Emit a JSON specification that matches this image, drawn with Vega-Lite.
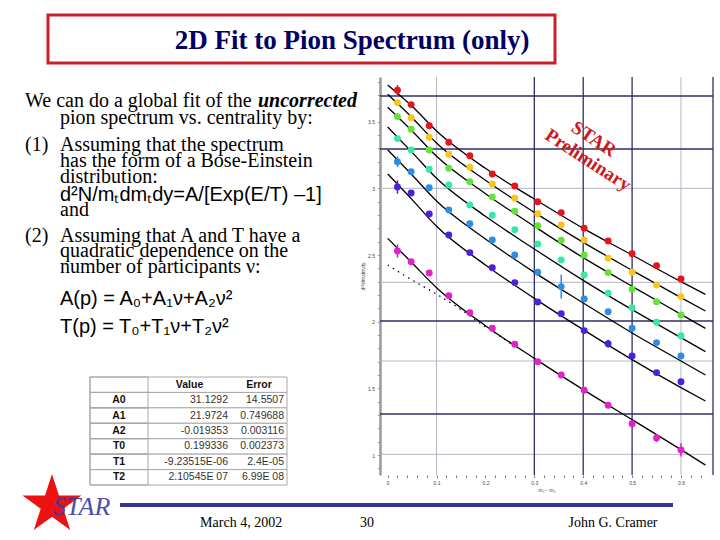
{
"$schema": "https://vega.github.io/schema/vega-lite/v6.json",
"width": 720, "height": 540, "autosize": {"type": "none"}, "padding": 0,
"background": "white",
"config": {"view": {"stroke": null}},
"datasets": {
"title": [{"title": "2D Fit to Pion Spectrum (only)"}],
"body": [
{"ln": 1, "ind": 0, "txt": "We can do a global fit of the"},
{"ln": 2, "ind": 1, "txt": "pion spectrum vs. centrality by:"},
{"ln": 3, "ind": 0, "txt": "(1)"},
{"ln": 3, "ind": 1, "txt": "Assuming that the spectrum"},
{"ln": 4, "ind": 1, "txt": "has the form of a Bose-Einstein"},
{"ln": 5, "ind": 1, "txt": "distribution:"},
{"ln": 7, "ind": 1, "txt": "and"},
{"ln": 8, "ind": 0, "txt": "(2)"},
{"ln": 8, "ind": 1, "txt": "Assuming that A and T have a"},
{"ln": 9, "ind": 1, "txt": "quadratic dependence on the"},
{"ln": 10, "ind": 1, "txt": "number of participants ν:"}
],
"formulas": [
{"ln": 6, "ind": 1, "txt": "d²N/mₜdmₜdy=A/[Exp(E/T) –1]"},
{"ln": 11, "ind": 1, "txt": "A(p) = A₀+A₁ν+A₂ν²"},
{"ln": 12, "ind": 1, "txt": "T(p) = T₀+T₁ν+T₂ν²"}
],
"emph": [{"ln": 1, "ind": 2, "txt": "uncorrected"}],
"fitpars": [
{"p": "hdr", "v": "Value", "e": "Error"},
{"p": "A0", "v": "31.1292", "e": "14.5507"},
{"p": "A1", "v": "21.9724", "e": "0.749688"},
{"p": "A2", "v": "-0.019353", "e": "0.003116"},
{"p": "T0", "v": "0.199336", "e": "0.002373"},
{"p": "T1", "v": "-9.23515E-06", "e": "2.4E-05"},
{"p": "T2", "v": "2.10545E 07", "e": "6.99E 08"}
],
"pts": [
{"x": 0.02, "c1": 3.735, "c2": 3.643, "c3": 3.538, "c4": 3.373, "c5": 3.20, "c6": 3.01, "c7": 2.53},
{"x": 0.048, "c1": 3.628, "c2": 3.53, "c3": 3.443, "c4": 3.288, "c5": 3.125, "c6": 2.965, "c7": 2.45},
{"x": 0.085, "c1": 3.47, "c2": 3.383, "c3": 3.288, "c4": 3.143, "c5": 3.005, "c6": 2.808, "c7": 2.365},
{"x": 0.125, "c1": 3.345, "c2": 3.255, "c3": 3.15, "c4": 3.025, "c5": 2.838, "c6": 2.65, "c7": 2.195},
{"x": 0.168, "c1": 3.245, "c2": 3.158, "c3": 3.05, "c4": 2.875, "c5": 2.735, "c6": 2.518, "c7": 2.068},
{"x": 0.214, "c1": 3.108, "c2": 3.033, "c3": 2.935, "c4": 2.798, "c5": 2.613, "c6": 2.405, "c7": 1.95},
{"x": 0.26, "c1": 3.018, "c2": 2.925, "c3": 2.828, "c4": 2.69, "c5": 2.50, "c6": 2.293, "c7": 1.83},
{"x": 0.307, "c1": 2.90, "c2": 2.81, "c3": 2.72, "c4": 2.583, "c5": 2.37, "c6": 2.148, "c7": 1.70},
{"x": 0.355, "c1": 2.818, "c2": 2.725, "c3": 2.61, "c4": 2.463, "c5": 2.263, "c6": 2.06, "c7": 1.60},
{"x": 0.402, "c1": 2.70, "c2": 2.613, "c3": 2.50, "c4": 2.35, "c5": 2.17, "c6": 1.933, "c7": 1.485},
{"x": 0.451, "c1": 2.605, "c2": 2.475, "c3": 2.368, "c4": 2.213, "c5": 2.075, "c6": 1.835, "c7": 1.373},
{"x": 0.5, "c1": 2.51, "c2": 2.37, "c3": 2.243, "c4": 2.105, "c5": 1.95, "c6": 1.743, "c7": 1.235},
{"x": 0.55, "c1": 2.42, "c2": 2.275, "c3": 2.15, "c4": 1.995, "c5": 1.843, "c6": 1.618, "c7": 1.128},
{"x": 0.6, "c1": 2.32, "c2": 2.188, "c3": 2.05, "c4": 1.895, "c5": 1.743, "c6": 1.55, "c7": 1.038}
],
"fits": [
{"x": 0, "c1": 3.775, "c2": 3.705, "c3": 3.608, "c4": 3.46, "c5": 3.288, "c6": 3.108, "c7": 2.625},
{"x": 0.05, "c1": 3.615, "c2": 3.53, "c3": 3.43, "c4": 3.27, "c5": 3.10, "c6": 2.915, "c7": 2.44},
{"x": 0.1, "c1": 3.43, "c2": 3.34, "c3": 3.24, "c4": 3.075, "c5": 2.905, "c6": 2.715, "c7": 2.255},
{"x": 0.2, "c1": 3.15, "c2": 3.06, "c3": 2.96, "c4": 2.79, "c5": 2.62, "c6": 2.425, "c7": 1.97},
{"x": 0.3, "c1": 2.92, "c2": 2.82, "c3": 2.715, "c4": 2.545, "c5": 2.37, "c6": 2.175, "c7": 1.725},
{"x": 0.4, "c1": 2.70, "c2": 2.595, "c3": 2.48, "c4": 2.31, "c5": 2.14, "c6": 1.94, "c7": 1.49},
{"x": 0.5, "c1": 2.50, "c2": 2.385, "c3": 2.265, "c4": 2.09, "c5": 1.915, "c6": 1.715, "c7": 1.265},
{"x": 0.6, "c1": 2.30, "c2": 2.18, "c3": 2.055, "c4": 1.88, "c5": 1.705, "c6": 1.505, "c7": 1.04},
{"x": 0.65, "c1": 2.205, "c2": 2.08, "c3": 1.95, "c4": 1.775, "c5": 1.60, "c6": 1.405, "c7": 0.925}
],
"dotted": [
{"x": 0, "y": 2.425}, {"x": 0.042, "y": 2.33}, {"x": 0.097, "y": 2.2125},
{"x": 0.151, "y": 2.0875}, {"x": 0.189, "y": 1.9875}, {"x": 0.226, "y": 1.90}, {"x": 0.26, "y": 1.815}
],
"errs": [
{"s": "c1", "x": 0.02, "y": 3.735, "e": 0.04},
{"s": "c5", "x": 0.02, "y": 3.20, "e": 0.04},
{"s": "c6", "x": 0.02, "y": 3.01, "e": 0.05},
{"s": "c7", "x": 0.02, "y": 2.53, "e": 0.05},
{"s": "c5", "x": 0.355, "y": 2.263, "e": 0.09},
{"s": "c6", "x": 0.451, "y": 1.835, "e": 0.03},
{"s": "c7", "x": 0.55, "y": 1.128, "e": 0.03},
{"s": "c7", "x": 0.6, "y": 1.038, "e": 0.05}
],
"vlight": [{"x": 0.1}, {"x": 0.6}],
"vdark": [{"x": 0.3}, {"x": 0.4}, {"x": 0.5}, {"x": 0.6655}],
"hlight": [{"y": 3.0}, {"y": 2.295}, {"y": 1.705}, {"y": 1.005}],
"hdark": [{"y": 3.6925}, {"y": 3.295}, {"y": 2.005}, {"y": 1.3075}],
"notes": [{"a": "STAR", "b": "Preliminary"}],
"footer": [{"logo": "STAR", "date": "March 4, 2002", "page": "30", "author": "John G. Cramer"}]
},
"resolve": {"scale": {"x": "independent", "y": "independent", "color": "independent"}, "axis": {"x": "independent", "y": "independent"}},
"layer": [
{
"layer": [
{"data": {"name": "title"},
 "mark": {"type": "rect", "fill": "white", "stroke": "#cc1f2b", "strokeWidth": 3},
 "encoding": {
  "x": {"datum": 0, "type": "quantitative", "scale": {"domain": [0, 1], "range": [48, 555], "nice": false, "zero": false}, "axis": null},
  "x2": {"datum": 1},
  "y": {"datum": 0, "type": "quantitative", "scale": {"domain": [0, 1], "range": [15, 63], "nice": false, "zero": false}, "axis": null},
  "y2": {"datum": 1}}},
{"data": {"name": "title"},
 "mark": {"type": "text", "font": "Liberation Serif", "fontSize": 27, "fontWeight": "bold", "color": "#000066", "align": "center", "baseline": "alphabetic"},
 "encoding": {
  "x": {"datum": 0.6, "type": "quantitative", "scale": {"domain": [0, 1], "range": [48, 555], "nice": false, "zero": false}, "axis": null},
  "y": {"datum": 0.71, "type": "quantitative", "scale": {"domain": [0, 1], "range": [15, 63], "nice": false, "zero": false}, "axis": null},
  "text": {"field": "title"}}}
]
},
{
"layer": [
{"data": {"name": "body"},
 "mark": {"type": "text", "font": "Liberation Serif", "fontSize": 20, "align": "left", "baseline": "middle", "color": "black"},
 "encoding": {
  "x": {"field": "ind", "type": "quantitative", "scale": {"type": "linear", "domain": [0, 1, 2], "range": [25, 60, 258], "nice": false, "zero": false}, "axis": null},
  "y": {"field": "ln", "type": "quantitative", "scale": {"type": "linear", "domain": [1, 2, 3, 4, 5, 6, 7, 8, 9, 10, 11, 12], "range": [101, 118, 145, 161, 177, 195, 210, 236, 251, 267, 299, 327], "nice": false, "zero": false}, "axis": null},
  "text": {"field": "txt"}}},
{"data": {"name": "formulas"},
 "mark": {"type": "text", "font": "Liberation Sans", "fontSize": 20, "align": "left", "baseline": "middle", "color": "black"},
 "encoding": {
  "x": {"field": "ind", "type": "quantitative", "scale": {"type": "linear", "domain": [0, 1, 2], "range": [25, 60, 258], "nice": false, "zero": false}, "axis": null},
  "y": {"field": "ln", "type": "quantitative", "scale": {"type": "linear", "domain": [1, 2, 3, 4, 5, 6, 7, 8, 9, 10, 11, 12], "range": [101, 118, 145, 161, 177, 195, 210, 236, 251, 267, 299, 327], "nice": false, "zero": false}, "axis": null},
  "text": {"field": "txt"}}},
{"data": {"name": "emph"},
 "mark": {"type": "text", "font": "Liberation Serif", "fontSize": 20, "fontWeight": "bold", "fontStyle": "italic", "align": "left", "baseline": "middle", "color": "black"},
 "encoding": {
  "x": {"field": "ind", "type": "quantitative", "scale": {"type": "linear", "domain": [0, 1, 2], "range": [25, 60, 258], "nice": false, "zero": false}, "axis": null},
  "y": {"field": "ln", "type": "quantitative", "scale": {"type": "linear", "domain": [1, 2, 3, 4, 5, 6, 7, 8, 9, 10, 11, 12], "range": [101, 118, 145, 161, 177, 195, 210, 236, 251, 267, 299, 327], "nice": false, "zero": false}, "axis": null},
  "text": {"field": "txt"}}}
]
},
{
"data": {"name": "fitpars"},
"layer": [
{"mark": {"type": "rect", "fill": "white", "stroke": "#a8a8a8", "strokeWidth": 1},
 "encoding": {
  "x": {"datum": 0, "type": "quantitative", "scale": {"domain": [0, 1, 2, 3], "range": [90, 148, 231, 287], "nice": false, "zero": false}, "axis": null},
  "x2": {"datum": 3},
  "y": {"field": "p", "type": "nominal", "scale": {"type": "band", "domain": ["hdr", "A0", "A1", "A2", "T0", "T1", "T2"], "range": [377, 485], "paddingInner": 0, "paddingOuter": 0}, "axis": null}}},
{"mark": {"type": "rect", "fill": null, "fillOpacity": 0, "stroke": "#a8a8a8", "strokeWidth": 1},
 "encoding": {
  "x": {"datum": 0, "type": "quantitative", "scale": {"domain": [0, 1, 2, 3], "range": [90, 148, 231, 287], "nice": false, "zero": false}, "axis": null},
  "x2": {"datum": 1},
  "y": {"field": "p", "type": "nominal", "scale": {"type": "band", "domain": ["hdr", "A0", "A1", "A2", "T0", "T1", "T2"], "range": [377, 485], "paddingInner": 0, "paddingOuter": 0}, "axis": null}}},
{"transform": [{"filter": "datum.p != 'hdr'"}],
 "mark": {"type": "text", "font": "Liberation Sans", "fontSize": 10.5, "fontWeight": "bold", "align": "center", "baseline": "middle", "color": "#111111"},
 "encoding": {
  "x": {"datum": 0.5, "type": "quantitative", "scale": {"domain": [0, 1, 2, 3], "range": [90, 148, 231, 287], "nice": false, "zero": false}, "axis": null},
  "y": {"field": "p", "type": "nominal", "scale": {"type": "band", "domain": ["hdr", "A0", "A1", "A2", "T0", "T1", "T2"], "range": [377, 485], "paddingInner": 0, "paddingOuter": 0}, "axis": null},
  "text": {"field": "p"}}},
{"transform": [{"filter": "datum.p != 'hdr'"}],
 "mark": {"type": "text", "font": "Liberation Sans", "fontSize": 10.5, "align": "right", "baseline": "middle", "dx": -3, "color": "#333333"},
 "encoding": {
  "x": {"datum": 2, "type": "quantitative", "scale": {"domain": [0, 1, 2, 3], "range": [90, 148, 231, 287], "nice": false, "zero": false}, "axis": null},
  "y": {"field": "p", "type": "nominal", "scale": {"type": "band", "domain": ["hdr", "A0", "A1", "A2", "T0", "T1", "T2"], "range": [377, 485], "paddingInner": 0, "paddingOuter": 0}, "axis": null},
  "text": {"field": "v"}}},
{"transform": [{"filter": "datum.p != 'hdr'"}],
 "mark": {"type": "text", "font": "Liberation Sans", "fontSize": 10.5, "align": "right", "baseline": "middle", "dx": -3, "color": "#333333"},
 "encoding": {
  "x": {"datum": 3, "type": "quantitative", "scale": {"domain": [0, 1, 2, 3], "range": [90, 148, 231, 287], "nice": false, "zero": false}, "axis": null},
  "y": {"field": "p", "type": "nominal", "scale": {"type": "band", "domain": ["hdr", "A0", "A1", "A2", "T0", "T1", "T2"], "range": [377, 485], "paddingInner": 0, "paddingOuter": 0}, "axis": null},
  "text": {"field": "e"}}},
{"transform": [{"filter": "datum.p == 'hdr'"}],
 "mark": {"type": "text", "font": "Liberation Sans", "fontSize": 10.5, "fontWeight": "bold", "align": "center", "baseline": "middle", "color": "#111111"},
 "encoding": {
  "x": {"datum": 1.5, "type": "quantitative", "scale": {"domain": [0, 1, 2, 3], "range": [90, 148, 231, 287], "nice": false, "zero": false}, "axis": null},
  "y": {"field": "p", "type": "nominal", "scale": {"type": "band", "domain": ["hdr", "A0", "A1", "A2", "T0", "T1", "T2"], "range": [377, 485], "paddingInner": 0, "paddingOuter": 0}, "axis": null},
  "text": {"field": "v"}}},
{"transform": [{"filter": "datum.p == 'hdr'"}],
 "mark": {"type": "text", "font": "Liberation Sans", "fontSize": 10.5, "fontWeight": "bold", "align": "center", "baseline": "middle", "color": "#111111"},
 "encoding": {
  "x": {"datum": 2.5, "type": "quantitative", "scale": {"domain": [0, 1, 2, 3], "range": [90, 148, 231, 287], "nice": false, "zero": false}, "axis": null},
  "y": {"field": "p", "type": "nominal", "scale": {"type": "band", "domain": ["hdr", "A0", "A1", "A2", "T0", "T1", "T2"], "range": [377, 485], "paddingInner": 0, "paddingOuter": 0}, "axis": null},
  "text": {"field": "e"}}}
]
},
{
"layer": [
{"data": {"name": "vlight"},
 "mark": {"type": "rule", "color": "#b6b6c6", "strokeWidth": 1},
 "encoding": {
  "x": {"field": "x", "type": "quantitative", "scale": {"domain": [-0.0157, 0.6655], "range": [380, 713], "nice": false, "zero": false}, "axis": null},
  "y": {"datum": 0.85, "type": "quantitative", "scale": {"domain": [0.85, 3.835], "range": [475, 77], "nice": false, "zero": false}, "axis": null},
  "y2": {"datum": 3.835}}},
{"data": {"name": "hlight"},
 "mark": {"type": "rule", "color": "#b6b6c6", "strokeWidth": 1},
 "encoding": {
  "y": {"field": "y", "type": "quantitative", "scale": {"domain": [0.85, 3.835], "range": [475, 77], "nice": false, "zero": false}, "axis": null},
  "x": {"datum": -0.0157, "type": "quantitative", "scale": {"domain": [-0.0157, 0.6655], "range": [380, 713], "nice": false, "zero": false}, "axis": null},
  "x2": {"datum": 0.6655}}},
{"data": {"name": "vdark"},
 "mark": {"type": "rule", "color": "#2e2e66", "strokeWidth": 1.3},
 "encoding": {
  "x": {"field": "x", "type": "quantitative", "scale": {"domain": [-0.0157, 0.6655], "range": [380, 713], "nice": false, "zero": false}, "axis": null},
  "y": {"datum": 0.85, "type": "quantitative", "scale": {"domain": [0.85, 3.835], "range": [475, 77], "nice": false, "zero": false}, "axis": null},
  "y2": {"datum": 3.835}}},
{"data": {"name": "hdark"},
 "mark": {"type": "rule", "color": "#2e2e66", "strokeWidth": 1.3},
 "encoding": {
  "y": {"field": "y", "type": "quantitative", "scale": {"domain": [0.85, 3.835], "range": [475, 77], "nice": false, "zero": false}, "axis": null},
  "x": {"datum": -0.0157, "type": "quantitative", "scale": {"domain": [-0.0157, 0.6655], "range": [380, 713], "nice": false, "zero": false}, "axis": null},
  "x2": {"datum": 0.6655}}},
{"data": {"name": "dotted"},
 "mark": {"type": "line", "color": "black", "strokeWidth": 1.2, "strokeDash": [1.5, 4.5], "interpolate": "monotone"},
 "encoding": {
  "x": {"field": "x", "type": "quantitative", "scale": {"domain": [-0.0157, 0.6655], "range": [380, 713], "nice": false, "zero": false}, "axis": null},
  "y": {"field": "y", "type": "quantitative", "scale": {"domain": [0.85, 3.835], "range": [475, 77], "nice": false, "zero": false}, "axis": null}}},
{"data": {"name": "fits"},
 "transform": [{"fold": ["c1", "c2", "c3", "c4", "c5", "c6", "c7"], "as": ["s", "y"]}],
 "mark": {"type": "line", "color": "black", "strokeWidth": 1.3, "interpolate": "monotone"},
 "encoding": {
  "x": {"field": "x", "type": "quantitative", "scale": {"domain": [-0.0157, 0.6655], "range": [380, 713], "nice": false, "zero": false}, "axis": null},
  "y": {"field": "y", "type": "quantitative", "scale": {"domain": [0.85, 3.835], "range": [475, 77], "nice": false, "zero": false}, "axis": null},
  "detail": {"field": "s", "type": "nominal"}}},
{"data": {"name": "errs"},
 "mark": {"type": "errorbar", "ticks": false, "thickness": 1.5},
 "encoding": {
  "x": {"field": "x", "type": "quantitative", "scale": {"domain": [-0.0157, 0.6655], "range": [380, 713], "nice": false, "zero": false}, "axis": null},
  "y": {"field": "y", "type": "quantitative", "scale": {"domain": [0.85, 3.835], "range": [475, 77], "nice": false, "zero": false}, "axis": null},
  "yError": {"field": "e"},
  "color": {"field": "s", "type": "nominal", "scale": {"domain": ["c1", "c2", "c3", "c4", "c5", "c6", "c7"], "range": ["#e8141c", "#f7c51e", "#62e436", "#38e8a2", "#2e8ee6", "#4d21da", "#e022c8"]}, "legend": null}}},
{"data": {"name": "notes"},
 "mark": {"type": "text", "font": "Liberation Serif", "fontSize": 19, "fontWeight": "bold", "color": "#cc1a1a", "angle": 33, "align": "center", "baseline": "middle"},
 "encoding": {
  "x": {"datum": 0.422, "type": "quantitative", "scale": {"domain": [-0.0157, 0.6655], "range": [380, 713], "nice": false, "zero": false}, "axis": null},
  "y": {"datum": 3.37, "type": "quantitative", "scale": {"domain": [0.85, 3.835], "range": [475, 77], "nice": false, "zero": false}, "axis": null},
  "text": {"field": "a"}}},
{"data": {"name": "notes"},
 "mark": {"type": "text", "font": "Liberation Serif", "fontSize": 19, "fontWeight": "bold", "color": "#cc1a1a", "angle": 33, "align": "center", "baseline": "middle"},
 "encoding": {
  "x": {"datum": 0.41, "type": "quantitative", "scale": {"domain": [-0.0157, 0.6655], "range": [380, 713], "nice": false, "zero": false}, "axis": null},
  "y": {"datum": 3.213, "type": "quantitative", "scale": {"domain": [0.85, 3.835], "range": [475, 77], "nice": false, "zero": false}, "axis": null},
  "text": {"field": "b"}}}
]
},
{"data": {"name": "pts"},
 "transform": [{"fold": ["c1", "c2", "c3", "c4", "c5", "c6", "c7"], "as": ["s", "y"]}],
 "mark": {"type": "circle", "size": 48, "opacity": 1},
 "encoding": {
  "x": {"field": "x", "type": "quantitative", "scale": {"domain": [-0.0157, 0.6655], "range": [380, 713], "nice": false, "zero": false},
   "axis": {"orient": "bottom", "offset": -65, "grid": false, "domain": false,
    "values": [0, 0.02, 0.04, 0.06, 0.08, 0.1, 0.12, 0.14, 0.16, 0.18, 0.2, 0.22, 0.24, 0.26, 0.28, 0.3, 0.32, 0.34, 0.36, 0.38, 0.4, 0.42, 0.44, 0.46, 0.48, 0.5, 0.52, 0.54, 0.56, 0.58, 0.6, 0.62, 0.64],
    "format": "~g", "labelExpr": "round(datum.value*50) % 5 == 0 ? datum.label : ''",
    "labelOverlap": false, "labelFlush": false, "tickSize": 2.5, "tickColor": "#555555", "tickWidth": 0.8,
    "labelFont": "Liberation Sans", "labelFontSize": 5, "labelColor": "#444444", "labelPadding": 3,
    "title": "mₜ − m₀", "titleFont": "Liberation Sans", "titleFontSize": 5, "titleFontWeight": "normal", "titleColor": "#444444", "titlePadding": 2}},
  "y": {"field": "y", "type": "quantitative", "scale": {"domain": [0.85, 3.835], "range": [475, 77], "nice": false, "zero": false},
   "axis": {"orient": "left", "offset": -380, "grid": false, "domain": true, "domainColor": "#9a9a9a", "domainWidth": 2.5,
    "values": [0.9, 1, 1.1, 1.2, 1.3, 1.4, 1.5, 1.6, 1.7, 1.8, 1.9, 2, 2.1, 2.2, 2.3, 2.4, 2.5, 2.6, 2.7, 2.8, 2.9, 3, 3.1, 3.2, 3.3, 3.4, 3.5, 3.6, 3.7, 3.8],
    "format": "~g", "labelExpr": "round(datum.value*10) % 5 == 0 ? datum.label : ''",
    "labelOverlap": false, "labelFlush": false, "tickSize": 2.5, "tickColor": "#777777", "tickWidth": 0.8,
    "labelFont": "Liberation Sans", "labelFontSize": 5, "labelColor": "#444444", "labelPadding": 3,
    "title": "d²N/mₜdmₜdy", "titleFont": "Liberation Sans", "titleFontSize": 5, "titleFontWeight": "normal", "titleColor": "#444444", "titlePadding": 2}},
  "color": {"field": "s", "type": "nominal", "scale": {"domain": ["c1", "c2", "c3", "c4", "c5", "c6", "c7"], "range": ["#e8141c", "#f7c51e", "#62e436", "#38e8a2", "#2e8ee6", "#4d21da", "#e022c8"]}, "legend": null}}},
{
"data": {"name": "footer"},
"layer": [
{"mark": {"type": "rule", "color": "#333399", "strokeWidth": 4},
 "encoding": {
  "x": {"datum": 0, "type": "quantitative", "scale": {"domain": [0, 1], "range": [120, 673], "nice": false, "zero": false}, "axis": null},
  "x2": {"datum": 1},
  "y": {"datum": 0, "type": "quantitative", "scale": {"domain": [0, 1], "range": [505, 523], "nice": false, "zero": false}, "axis": null}}},
{"mark": {"type": "point", "filled": true, "color": "#ee1111", "opacity": 1, "size": 3844,
  "shape": "M0,-1L0.2245,-0.309L0.9511,-0.309L0.3633,0.118L0.5878,0.809L0,0.382L-0.5878,0.809L-0.3633,0.118L-0.9511,-0.309L-0.2245,-0.309Z"},
 "encoding": {
  "x": {"datum": -0.123, "type": "quantitative", "scale": {"domain": [0, 1], "range": [120, 673], "nice": false, "zero": false}, "axis": null},
  "y": {"datum": 0, "type": "quantitative", "scale": {"domain": [0, 1], "range": [505, 523], "nice": false, "zero": false}, "axis": null}}},
{"mark": {"type": "text", "font": "Liberation Serif", "fontSize": 26, "fontStyle": "italic", "color": "#3a3aa6", "opacity": 0.9, "align": "left", "baseline": "middle"},
 "encoding": {
  "x": {"datum": -0.1212, "type": "quantitative", "scale": {"domain": [0, 1], "range": [120, 673], "nice": false, "zero": false}, "axis": null},
  "y": {"datum": 0.11, "type": "quantitative", "scale": {"domain": [0, 1], "range": [505, 523], "nice": false, "zero": false}, "axis": null},
  "text": {"field": "logo"}}},
{"mark": {"type": "text", "font": "Liberation Serif", "fontSize": 14, "color": "black", "align": "center", "baseline": "middle"},
 "encoding": {
  "x": {"datum": 0.219, "type": "quantitative", "scale": {"domain": [0, 1], "range": [120, 673], "nice": false, "zero": false}, "axis": null},
  "y": {"datum": 1, "type": "quantitative", "scale": {"domain": [0, 1], "range": [505, 523], "nice": false, "zero": false}, "axis": null},
  "text": {"field": "date"}}},
{"mark": {"type": "text", "font": "Liberation Serif", "fontSize": 14, "color": "black", "align": "center", "baseline": "middle"},
 "encoding": {
  "x": {"datum": 0.4467, "type": "quantitative", "scale": {"domain": [0, 1], "range": [120, 673], "nice": false, "zero": false}, "axis": null},
  "y": {"datum": 1, "type": "quantitative", "scale": {"domain": [0, 1], "range": [505, 523], "nice": false, "zero": false}, "axis": null},
  "text": {"field": "page"}}},
{"mark": {"type": "text", "font": "Liberation Serif", "fontSize": 14, "color": "black", "align": "center", "baseline": "middle"},
 "encoding": {
  "x": {"datum": 0.8915, "type": "quantitative", "scale": {"domain": [0, 1], "range": [120, 673], "nice": false, "zero": false}, "axis": null},
  "y": {"datum": 1, "type": "quantitative", "scale": {"domain": [0, 1], "range": [505, 523], "nice": false, "zero": false}, "axis": null},
  "text": {"field": "author"}}}
]
}
]
}
